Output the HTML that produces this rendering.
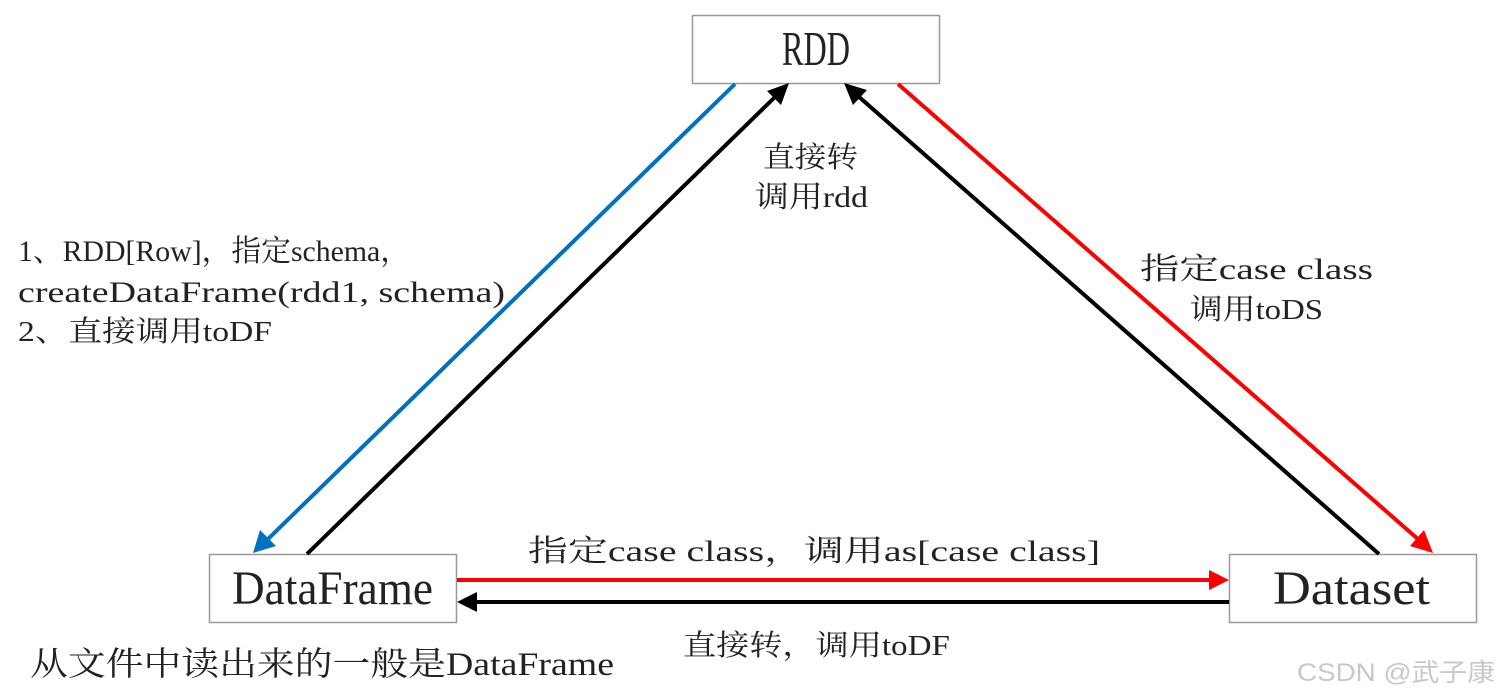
<!DOCTYPE html>
<html><head><meta charset="utf-8"><style>
html,body{margin:0;padding:0;background:#fff;}
svg{display:block;}
text{font-family:"Liberation Serif","Noto Serif CJK SC",serif;fill:#222;}
</style></head><body>
<svg width="1500" height="697" viewBox="0 0 1500 697" xmlns="http://www.w3.org/2000/svg">
<rect x="0" y="0" width="1500" height="697" fill="#fff"/>
<!-- boxes -->
<rect x="692.5" y="15.5" width="247" height="68" fill="#fff" stroke="#999" stroke-width="1.5"/>
<rect x="209.5" y="554.5" width="247" height="68" fill="#fff" stroke="#999" stroke-width="1.5"/>
<rect x="1229.5" y="554.5" width="247" height="68" fill="#fff" stroke="#999" stroke-width="1.5"/>
<text x="782" y="65" font-size="49" textLength="68" lengthAdjust="spacingAndGlyphs">RDD</text>
<text x="232" y="604" font-size="48" textLength="201" lengthAdjust="spacingAndGlyphs">DataFrame</text>
<text x="1273" y="604" font-size="48" textLength="157" lengthAdjust="spacingAndGlyphs">Dataset</text>

<!-- blue: RDD -> DataFrame -->
<line x1="735" y1="84" x2="267" y2="540" stroke="#0070c0" stroke-width="4"/>
<polygon points="253,553 260,530 276,546" fill="#0070c0"/>
<!-- black: DataFrame -> RDD -->
<line x1="307" y1="554" x2="776" y2="96" stroke="#000" stroke-width="4"/>
<polygon points="789,83 781,105 767,91" fill="#000"/>
<!-- black: Dataset -> RDD -->
<line x1="1379" y1="554" x2="858" y2="96" stroke="#000" stroke-width="4"/>
<polygon points="844,83 867,90 853,105" fill="#000"/>
<!-- red: RDD -> Dataset -->
<line x1="898" y1="84" x2="1419" y2="540" stroke="#ff0000" stroke-width="4"/>
<polygon points="1433,553 1410,546 1424,530" fill="#ff0000"/>
<!-- red horizontal -->
<line x1="457" y1="580" x2="1210" y2="580" stroke="#ff0000" stroke-width="4"/>
<polygon points="1229,580 1209,570 1209,590" fill="#ff0000"/>
<!-- black horizontal -->
<line x1="1229" y1="602" x2="476" y2="602" stroke="#000" stroke-width="4"/>
<polygon points="457,602 477,592 477,612" fill="#000"/>

<!-- labels -->
<text x="763" y="167" font-size="29" textLength="95" lengthAdjust="spacingAndGlyphs">直接转</text>
<text x="755" y="207" font-size="30" textLength="113" lengthAdjust="spacingAndGlyphs">调用rdd</text>

<text x="18" y="261" font-size="30" textLength="392" lengthAdjust="spacingAndGlyphs">1、RDD[Row]，指定schema，</text>
<text x="18" y="302" font-size="30" textLength="487" lengthAdjust="spacingAndGlyphs">createDataFrame(rdd1, schema)</text>
<text x="18" y="341" font-size="29" textLength="254" lengthAdjust="spacingAndGlyphs">2、直接调用toDF</text>

<text x="1140" y="279" font-size="30" textLength="233" lengthAdjust="spacingAndGlyphs">指定case class</text>
<text x="1190" y="319" font-size="29" textLength="133" lengthAdjust="spacingAndGlyphs">调用toDS</text>

<text x="528" y="561" font-size="30" textLength="572" lengthAdjust="spacingAndGlyphs">指定case class，调用as[case class]</text>
<text x="683" y="655" font-size="29" textLength="267" lengthAdjust="spacingAndGlyphs">直接转，调用toDF</text>
<text x="30" y="675" font-size="33" textLength="584" lengthAdjust="spacingAndGlyphs">从文件中读出来的一般是DataFrame</text>

<text x="1297" y="681" font-size="25" textLength="198" lengthAdjust="spacingAndGlyphs" style="font-family:'Liberation Sans','Noto Sans CJK SC',sans-serif;fill:#c8c8c8">CSDN @武子康</text>
</svg>
</body></html>
